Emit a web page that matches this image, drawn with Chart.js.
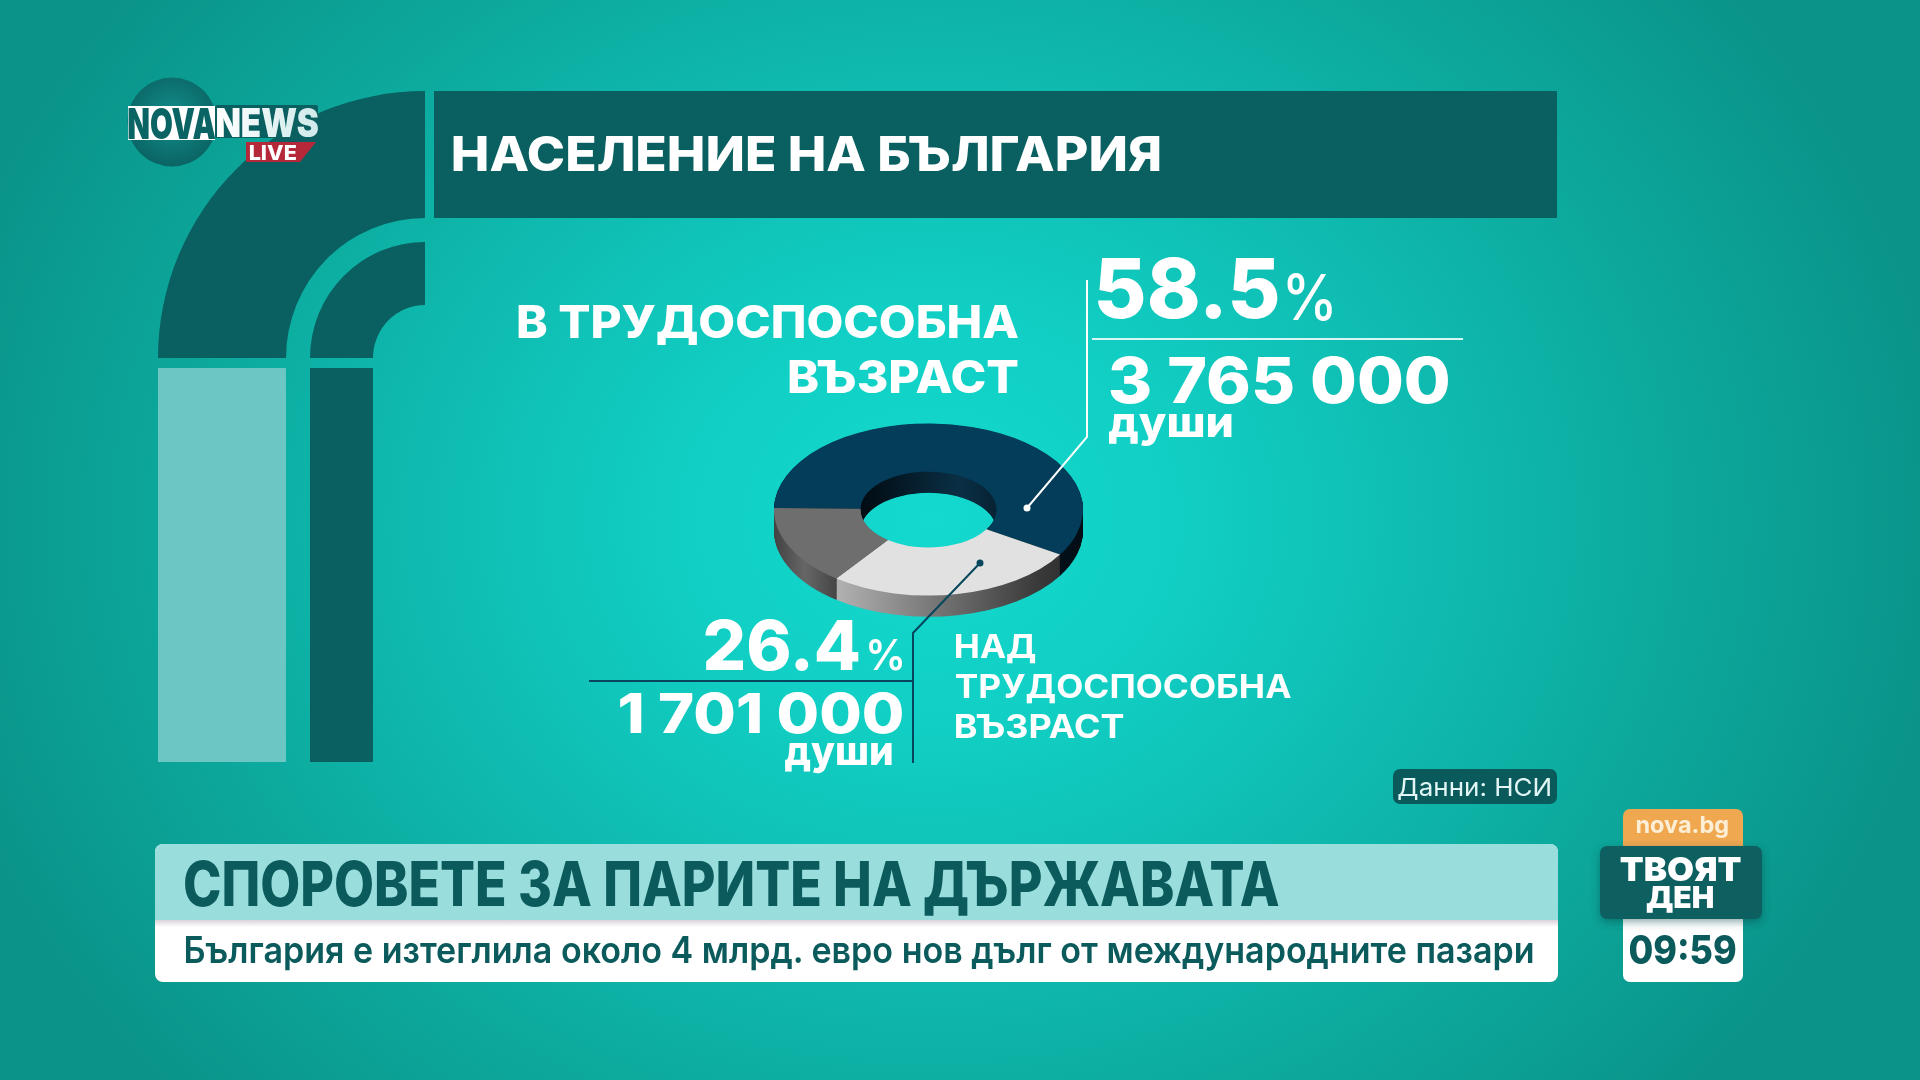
<!DOCTYPE html>
<html lang="bg">
<head>
<meta charset="utf-8">
<title>Население на България</title>
<script src="https://cdn.jsdelivr.net/npm/chart.js@4"></script>
<style>
html,body{margin:0;padding:0;width:1920px;height:1080px;overflow:hidden}
body{position:relative;background:radial-gradient(ellipse 1020px 860px at 930px 520px,#13d9ce 0%,#11cfc4 24%,#0fbbb0 50%,#0dab9f 70%,#0a9389 100%)}
#wrap{position:absolute;left:774px;top:354.5px;width:309px;height:309px}
#art{position:absolute;left:0;top:0}
text{font-family:Inter,"Noto Sans",sans-serif}
</style>
</head>
<body>
<div id="wrap"><canvas id="donut" width="309" height="309"></canvas></div>
<svg id="art" width="1920" height="1080" viewBox="0 0 1920 1080" xmlns="http://www.w3.org/2000/svg">
<defs>
<radialGradient id="globe" cx="50%" cy="45%" r="55%"><stop offset="0" stop-color="#12908c"/><stop offset="1" stop-color="#0a6464"/></radialGradient>
<linearGradient id="stripShade" x1="0" y1="0" x2="0" y2="1"><stop offset="0" stop-color="#d9d2da"/><stop offset="1" stop-color="#ffffff"/></linearGradient>
<linearGradient id="newsFill" x1="0" y1="0" x2="1" y2="0"><stop offset="0" stop-color="#ffffff"/><stop offset="1" stop-color="#cfe9ea"/></linearGradient>
<filter id="soft" x="-10%" y="-10%" width="120%" height="130%"><feDropShadow dx="0" dy="3" stdDeviation="4" flood-color="#04403f" flood-opacity=".45"/></filter>
</defs>
<g id="shapes">
<path d="M158,358 A267,267 0 0 1 425,91 L425,218 A139,140 0 0 0 286,358 Z" fill="#0a6060"/>
<path d="M310,358 A115,116 0 0 1 425,242 L425,305 A52,53 0 0 0 373,358 Z" fill="#0a6060"/>
<rect x="158" y="368" width="128" height="394" fill="#6cc6c4"/>
<rect x="310" y="368" width="63" height="394" fill="#0a6060"/>
<rect x="434" y="91" width="1123" height="127" fill="#0a6060"/>
<!-- lower third -->
<rect x="155" y="844" width="1403" height="138" rx="8" fill="#ffffff"/>
<path d="M155,920 V852 a8,8 0 0 1 8,-8 H1550 a8,8 0 0 1 8,8 V920 Z" fill="#99dddc"/>
<rect x="155" y="920" width="1403" height="7" fill="url(#stripShade)"/>
<!-- source -->
<rect x="1393" y="769" width="164" height="35" rx="7" fill="#0a5a5c"/>
<!-- right block -->
<path d="M1623,846 V816 a7,7 0 0 1 7,-7 H1736 a7,7 0 0 1 7,7 V846 Z" fill="#f0a850"/>
<path d="M1623,919 V975 a7,7 0 0 0 7,7 H1736 a7,7 0 0 0 7,-7 V919 Z" fill="#ffffff"/>
<rect x="1600" y="846" width="162" height="73" rx="7" fill="#0b5f60" filter="url(#soft)"/>
<!-- callouts -->
<polyline points="1087,280 1087,437 1027,508" fill="none" stroke="#ffffff" stroke-width="2"/>
<circle cx="1027" cy="508" r="3.5" fill="#ffffff"/>
<line x1="1092" y1="339" x2="1463" y2="339" stroke="#d8f6f3" stroke-width="2"/>
<polyline points="980,563 913,633 913,763" fill="none" stroke="#07465c" stroke-width="2"/>
<circle cx="980" cy="563" r="3.5" fill="#07465c"/>
<line x1="589" y1="681" x2="913" y2="681" stroke="#07465c" stroke-width="2"/>
<!-- logo -->
<circle cx="172" cy="122" r="44.5" fill="url(#globe)"/>
<rect x="215" y="105" width="103" height="33" rx="2" fill="#0a6060"/>
<rect x="128" y="106" width="87" height="34" fill="#ffffff"/>
<polygon points="246,142 316,142 300,162 246,162" fill="#b5283a"/>
</g>
<g id="labels"></g>
</svg>
<script>
// ---- values ----
const categories = ['В трудоспособна възраст', 'Над трудоспособна възраст', 'Под трудоспособна възраст'];
const shares = [58.5, 26.4, 15.1];
const people = ['3 765 000', '1 701 000'];
const unitLabel = 'души';
const titleText = 'НАСЕЛЕНИЕ НА БЪЛГАРИЯ';
const sourceText = 'Данни: НСИ';
const headline = 'СПОРОВЕТЕ ЗА ПАРИТЕ НА ДЪРЖАВАТА';
const subline = 'България е изтеглила около 4 млрд. евро нов дълг от международните пазари';
const clockText = '09:59';

// ---- drawing ----
const topColors = ['#033d5a', '#e1e1e1', '#6e6e6e'];
const TILT = 0.557, DEPTH = 38;

const tiltPlugin = {
  id: 'tilt',
  beforeDatasetsDraw(chart) {
    const ctx = chart.ctx, arcs = chart.getDatasetMeta(0).data;
    const cx = arcs[0].x, cy = arcs[0].y, r = arcs[0].outerRadius;
    const grad = stops => {
      const g = ctx.createLinearGradient(cx - r, 0, cx + r, 0);
      stops.forEach(([o, c]) => g.addColorStop(o, c));
      return g;
    };
    const sides = [
      grad([[0, '#03121d'], [.3, '#020d15'], [.6, '#0a2f45'], [.85, '#04141f'], [1, '#030d14']]),
      grad([[0, '#c8c8c8'], [.2, '#b2b2b2'], [.5, '#7a7a7a'], [.85, '#3a3a3a'], [1, '#2a2a2a']]),
      grad([[0, '#424242'], [.1, '#666666'], [.2, '#464646'], [1, '#444444']])
    ];
    ctx.save();
    ctx.translate(cx, cy); ctx.scale(1, TILT); ctx.translate(-cx, -cy);
    for (let d = DEPTH; d >= 1; d -= 1) {
      ctx.save();
      ctx.translate(0, d);
      arcs.forEach((a, i) => {
        const side = Object.create(a);
        side.options = new Proxy(a.options, { get: (t, k) => k === 'backgroundColor' ? sides[i] : t[k] });
        side.draw(ctx);
      });
      ctx.restore();
    }
  },
  afterDatasetsDraw(chart) { chart.ctx.restore(); }
};

new Chart(document.getElementById('donut'), {
  type: 'doughnut',
  data: { labels: categories, datasets: [{ data: shares, backgroundColor: topColors, borderWidth: 0, clip: false }] },
  options: {
    responsive: false, animation: false, events: [],
    rotation: -89, cutout: '44%', layout: { padding: 0 },
    plugins: { legend: { display: false }, tooltip: { enabled: false } }
  },
  plugins: [tiltPlugin]
});

const NS = 'http://www.w3.org/2000/svg';
const CAP = 0.727;
function label(txt, x0, x1, base, cap, weight, fill) {
  const a = x0 - cap * 0.09, b = x1 + cap * 0.06;
  const t = document.createElementNS(NS, 'text');
  t.textContent = txt;
  t.setAttribute('x', a); t.setAttribute('y', base);
  t.setAttribute('font-size', (cap / CAP).toFixed(1));
  t.setAttribute('font-weight', weight);
  t.setAttribute('fill', fill);
  t.setAttribute('textLength', b - a);
  t.setAttribute('lengthAdjust', 'spacingAndGlyphs');
  document.getElementById('labels').appendChild(t);
}
const W = '#ffffff', D = '#0b5a5c';
const [ageA, ageB] = [categories[0].toUpperCase().split(' '), categories[1].toUpperCase().split(' ')];
label(titleText, 454, 1160, 171, 35, 800, W);
label(ageA[0] + ' ' + ageA[1], 519, 1017, 338, 33, 800, W);
label(ageA[2], 790, 1017, 393, 33, 800, W);
label(String(shares[0]), 1099, 1277, 318, 60, 800, W);
label('%', 1286, 1335, 320, 46, 500, W);
label(people[0], 1112, 1448, 403, 46, 800, W);
label(unitLabel, 1111, 1232, 437, 31, 800, W);
label(String(shares[1]), 707, 858, 670, 50, 800, W);
label('%', 868, 904, 670, 31, 600, W);
label(people[1], 621, 902, 733, 40, 800, W);
label(unitLabel, 787, 892, 765, 29, 800, W);
label(ageB[0], 956, 1035, 658, 24, 700, W);
label(ageB[1], 957, 1290, 698, 24, 700, W);
label(ageB[2], 956, 1123, 738, 24, 700, W);
label(sourceText, 1399, 1551, 796, 18, 400, '#e2f7f5');
label(headline, 187, 1277, 906, 45, 800, D);
label(subline, 186, 1533, 963, 27, 600, D);
label('nova.bg', 1637, 1728, 833, 17, 700, '#fdeed6');
label('ТВОЯТ', 1622, 1740, 881, 24, 900, W);
label('ДЕН', 1648, 1713, 908, 22, 900, W);
label(clockText, 1631, 1735, 964, 29, 800, D);
label('NOVA', 130, 214, 139, 31, 900, '#0a6464');
label('NEWS', 218, 317, 137, 29, 900, 'url(#newsFill)');
label('LIVE', 250, 296, 160, 15, 800, W);
</script>
</body>
</html>
